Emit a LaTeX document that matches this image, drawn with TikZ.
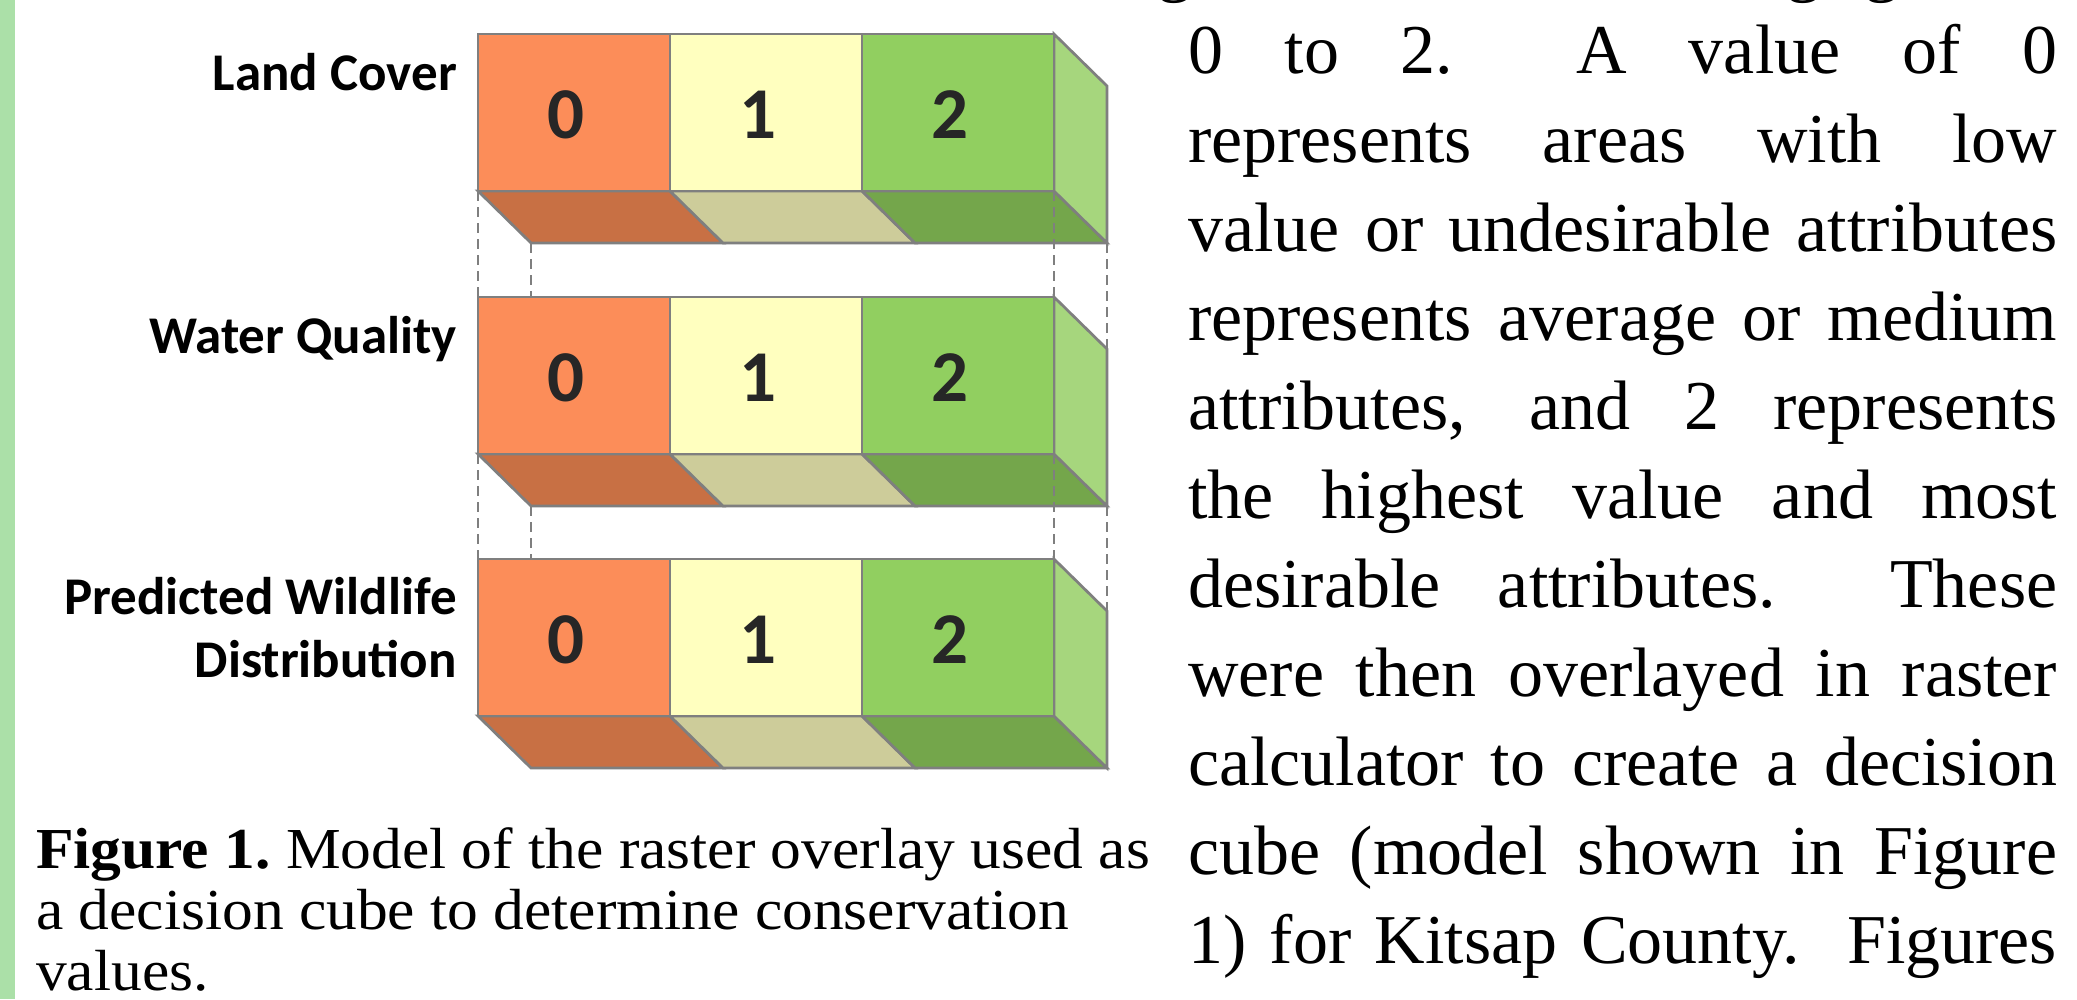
\documentclass[tikz,border=0pt]{standalone}
\usepackage{fontspec}
\setmainfont{Liberation Serif}
\newfontfamily\labfont{Carlito}
\newfontfamily\capfont[FakeStretch=1.06]{Liberation Serif}

\definecolor{barg}{HTML}{ABE0A8}
\definecolor{orF}{HTML}{FC8D59}
\definecolor{orB}{HTML}{C87044}
\definecolor{yeF}{HTML}{FFFFBF}
\definecolor{yeB}{HTML}{CDCC9A}
\definecolor{grF}{HTML}{91CF60}
\definecolor{grB}{HTML}{74A64B}
\definecolor{grS}{HTML}{A6D67D}
\definecolor{edgec}{HTML}{7F7F7F}
\definecolor{digitc}{HTML}{262626}

\tikzset{
  face/.style={draw=edgec, line width=2.7pt, line join=miter},
  hidden/.style={draw=edgec, line width=2.6pt, dash pattern=on 10pt off 6pt},
  lbl/.style={anchor=base east, inner sep=0pt, font=\labfont\bfseries\fontsize{53}{63}\selectfont},
  dig/.style={inner sep=0pt, anchor=base, font=\labfont\bfseries\fontsize{73}{73}\selectfont, text=digitc},
  bodytext/.style={anchor=base west, inner sep=0pt, font=\fontsize{70}{89}\selectfont},
  captext/.style={anchor=base west, inner sep=0pt, font=\capfont\fontsize{58}{62}\selectfont},
  topg/.style={anchor=base, inner sep=0pt, font=\fontsize{70}{89}\selectfont},
}

% #1 = prefix, #2 = top y
\newcommand\drawcube[2]{%
  \begin{scope}[shift={(478,#2)}]
    \coordinate (#1tl) at (0,0);
    \coordinate (#1tb) at (53,0);
    \coordinate (#1tr) at (576,0);
    \coordinate (#1sr) at (629,52);
    \coordinate (#1fl) at (0,157);
    \coordinate (#1fr) at (576,157);
    \coordinate (#1bl) at (53,209);
    \coordinate (#1br) at (629,209);
    % bottom faces
    \filldraw[face, fill=orB] (0,157) -- (192,157) -- (245,209) -- (53,209) -- cycle;
    \filldraw[face, fill=yeB] (192,157) -- (384,157) -- (437,209) -- (245,209) -- cycle;
    \filldraw[face, fill=grB] (384,157) -- (576,157) -- (629,209) -- (437,209) -- cycle;
    % side face
    \filldraw[face, fill=grS] (576,0) -- (629,52) -- (629,209) -- (576,157) -- cycle;
    % front cells
    \filldraw[face, fill=orF] (0,0) rectangle (192,157);
    \filldraw[face, fill=yeF] (192,0) rectangle (384,157);
    \filldraw[face, fill=grF] (384,0) rectangle (576,157);
    \node[dig] (#1d0) at (88,104) {0};
    \node[dig] (#1d1) at (280,104) {1};
    \node[dig] (#1d2) at (472,104) {2};
  \end{scope}}

\begin{document}
\begin{tikzpicture}[x=1pt, y=-1pt]
  \useasboundingbox (0,0) rectangle (2077,999);
  \fill[white] (0,0) rectangle (2077,999);
  \fill[barg] (0,0) rectangle (15,999);

  \begin{scope}
    \clip (0,0) rectangle (2077,999);
    \node[topg] (g1) at (1175,-12) {g};
    \node[topg] (g2) at (1804,-12) {g};
    \node[topg] (g3) at (1882,-12) {g};
  \end{scope}

  \drawcube{a}{34}
  \drawcube{b}{297}
  \drawcube{c}{559}

  % hidden (dashed) edges between layers
  \draw[hidden] (afl) -- (btl);
  \draw[hidden] (abl) -- (btb);
  \draw[hidden] (afr) -- (btr);
  \draw[hidden] (abr) -- (bsr);
  \draw[hidden] (bfl) -- (ctl);
  \draw[hidden] (bbl) -- (ctb);
  \draw[hidden] (bfr) -- (ctr);
  \draw[hidden] (bbr) -- (csr);

  % layer labels
  \node[lbl] (l1) at (457,90) {Land Cover};
  \node[lbl] (l2) at (457,353) {Water Quality};
  \node[lbl] (l3a) at (457,614) {Predicted Wildlife};
  \node[lbl] (l3b) at (457,677) {Distribution};

  % caption
  \node[captext] (cap1) at (36,868) {\bfseries Figure 1.\mdseries\ Model of the raster overlay used as};
  \node[captext] (cap2) at (36,929) {a decision cube to determine conservation};
  \node[captext] (cap3) at (36,990) {values.};

  % body text (justified lines)
  \node[bodytext] (t1) at (1188,73) {\makebox[869pt][s]{0 to 2.\ \ A value of 0}};
  \node[bodytext] (t2) at (1188,162) {\makebox[869pt][s]{represents areas with low}};
  \node[bodytext] (t3) at (1188,251) {\makebox[869pt][s]{value or undesirable attributes}};
  \node[bodytext] (t4) at (1188,340) {\makebox[869pt][s]{represents average or medium}};
  \node[bodytext] (t5) at (1188,429) {\makebox[869pt][s]{attributes, and 2 represents}};
  \node[bodytext] (t6) at (1188,518) {\makebox[869pt][s]{the highest value and most}};
  \node[bodytext] (t7) at (1188,607) {\makebox[869pt][s]{desirable attributes.\ \ These}};
  \node[bodytext] (t8) at (1188,696) {\makebox[869pt][s]{were then overlayed in raster}};
  \node[bodytext] (t9) at (1188,785) {\makebox[869pt][s]{calculator to create a decision}};
  \node[bodytext] (t10) at (1188,874) {\makebox[869pt][s]{cube (model shown in Figure}};
  \node[bodytext] (t11) at (1188,963) {\makebox[869pt][s]{1) for Kitsap County.\ \ Figures}};
\end{tikzpicture}
\end{document}
